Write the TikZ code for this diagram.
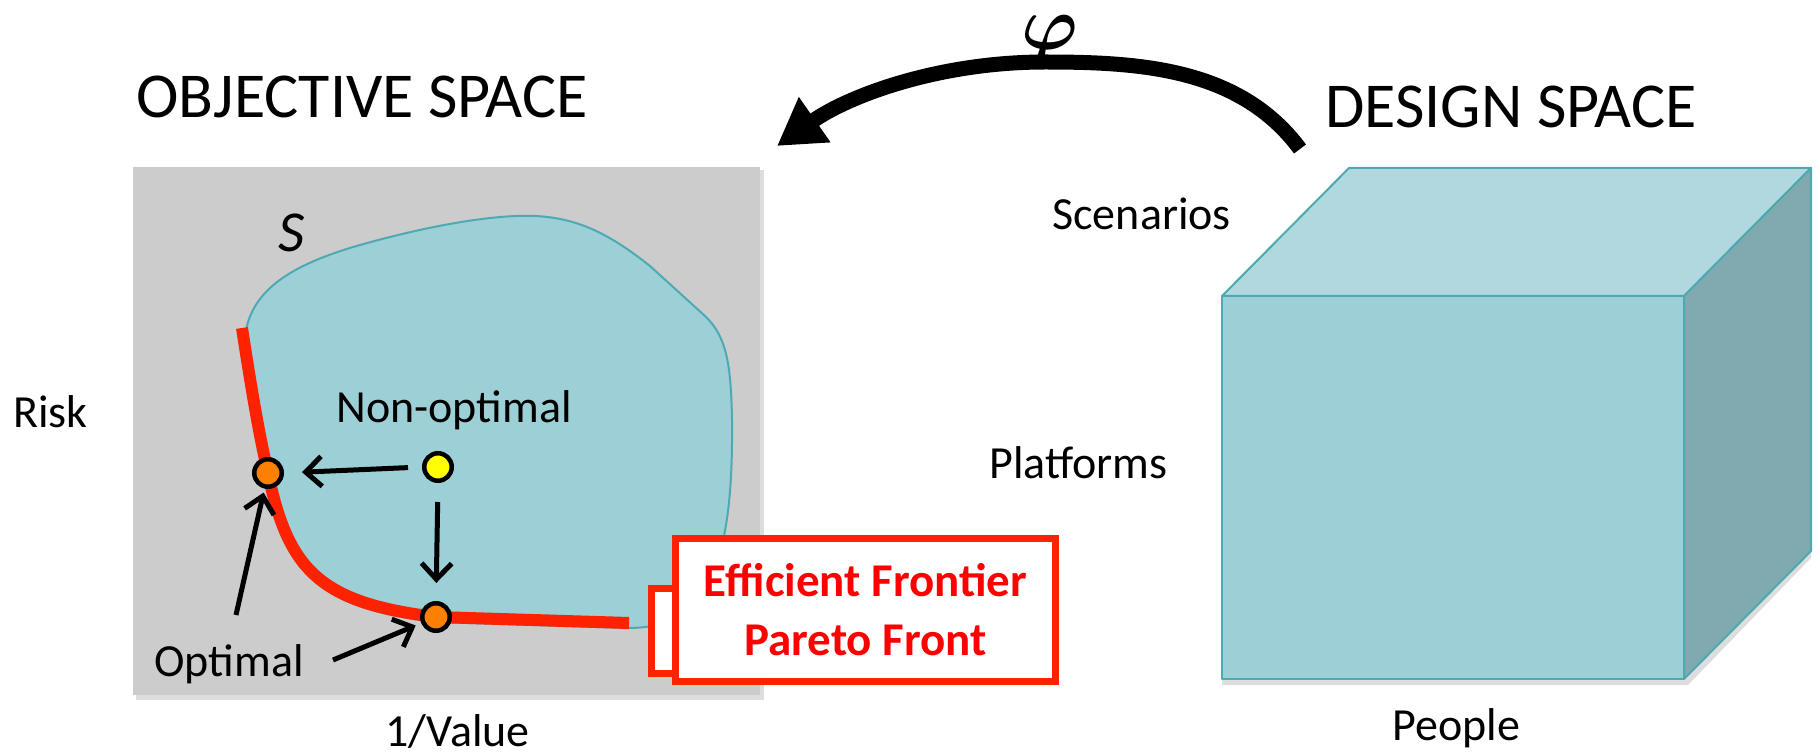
\RequirePackage{fix-cm}
\documentclass[tikz,border=0pt]{standalone}
\usepackage{bm}
\usepackage{fontspec}
\setmainfont{Carlito}
\usetikzlibrary{arrows.meta}
\definecolor{panelgrey}{HTML}{CCCCCC}
\definecolor{shadowgrey}{HTML}{DDDDDD}
\definecolor{setfill}{HTML}{9CCFD6}
\definecolor{setedge}{HTML}{4FA9B3}
\definecolor{cubetop}{HTML}{B0D8DE}
\definecolor{cubeside}{HTML}{80AAB0}
\definecolor{frontred}{HTML}{FF2200}
\definecolor{optorange}{HTML}{FF7F00}
\definecolor{nonoptyellow}{HTML}{FFFF00}

\begin{document}
\begin{tikzpicture}[x=0.5pt,y=-0.5pt,
  lbl/.style={inner sep=0pt, anchor=base west, font=\fontsize{23}{28}\selectfont},
  ttl/.style={inner sep=0pt, anchor=base west, font=\fontsize{32}{38}\selectfont},
  dot/.style={circle, draw=black, line width=2.25pt, minimum size=13.75pt, inner sep=0pt},
  ptr/.style={line width=2.5pt, -{Straight Barb[length=8pt,width=15pt]}},
  cubeface/.style={draw=setedge, line width=1pt, line join=round},
]
\useasboundingbox (0,0) rectangle (1820,754);

% objective-space panel
\fill[shadowgrey] (136,170) rectangle (764,700);
\fill[panelgrey] (133,167) rectangle (760,695);

% feasible set S
\fill[setfill, draw=setedge, line width=1pt]
  (246,330) .. controls (254,290) and (290,265) .. (360,245)
  .. controls (420,228) and (490,214) .. (535,216)
  .. controls (580,218) and (612,236) .. (650,266)
  -- (705,316)
  .. controls (726,336) and (731,362) .. (732,420)
  .. controls (733,520) and (722,580) .. (685,612)
  .. controls (668,624) and (650,628) .. (628,628)
  -- (436,622)
  .. controls (316,608) and (284,572) .. (264,474)
  -- cycle;

% efficient frontier curve
\draw[frontred, line width=6pt]
  (242,328) .. controls (250,380) and (258,430) .. (268,473)
  .. controls (288,570) and (320,603) .. (436,617)
  -- (629,623);

% labels inside the panel
\node[inner sep=0pt, anchor=base west, font=\fontsize{29}{34}\selectfont\itshape] (sset) at (278,252) {S};
\node[lbl] (nonopt) at (336,422) {Non-optimal};
\node[lbl] (opt) at (154,676) {Optimal};

% points
\node[dot, fill=nonoptyellow] (ny) at (438,467) {};
\node[dot, fill=optorange] (oa) at (268,473) {};
\node[dot, fill=optorange] (ob) at (436,617) {};

\coordinate (tailA) at (236,615);
\coordinate (tailB) at (333,660);

\draw[ptr, shorten <=7pt, shorten >=9pt] (ny.west) -- (oa.east);
\draw[ptr, shorten <=9.5pt, shorten >=9pt] (ny.south) -- (ob.north);
\draw[ptr, shorten >=2pt] (tailA) -- (oa);
\draw[ptr, shorten >=3pt] (tailB) -- (ob);

% frontier callout
\draw[frontred, fill=white, line width=3.5pt] (651.5,588.5) rectangle (700,673.5);
\node[draw=frontred, line width=3.5pt, fill=white, minimum width=190pt,
      minimum height=71.5pt, inner sep=0pt, align=center, text=red,
      font=\fontsize{23.5}{29.5}\selectfont\bfseries]
  (front) at (865.5,610) {Efficient Frontier\\Pareto Front};

% axis labels and titles
\node[ttl] (objt) at (136,118) {OBJECTIVE SPACE};
\node[ttl] (dest) at (1325,128) {DESIGN SPACE};
\node[lbl] (risk) at (13,427) {Risk};
\node[lbl] (val) at (385,746) {1/Value};
\node[lbl] (scen) at (1052,230) {Scenarios};
\node[lbl] (plat) at (989,478) {Platforms};
\node[lbl] (peop) at (1392,740) {People};

% design-space cube
\fill[shadowgrey] (1222,679) -- (1684,679) -- (1811,551) -- (1811,558)
  -- (1688,685) -- (1222,685) -- cycle;
\filldraw[cubeface, fill=setfill] (1222,296) rectangle (1684,679);
\filldraw[cubeface, fill=cubetop] (1222,296) -- (1349,168) -- (1811,168) -- (1684,296) -- cycle;
\filldraw[cubeface, fill=cubeside] (1684,296) -- (1811,168) -- (1811,551) -- (1684,679) -- cycle;

% mapping arrow
\coordinate (mapfrom) at (1300,149);
\coordinate (mapto) at (777,146);
\draw[line width=7.5pt, -{Triangle[length=23pt,width=26pt]}]
  (mapfrom) .. controls (1240,68) and (1140,62) .. (1045,62)
  .. controls (940,62) and (850,95) .. (mapto);
\node[inner sep=0pt, font=\fontsize{38}{38}\selectfont] (phi) at (1050,40) {$\bm{\varphi}$};
\end{tikzpicture}
\end{document}
